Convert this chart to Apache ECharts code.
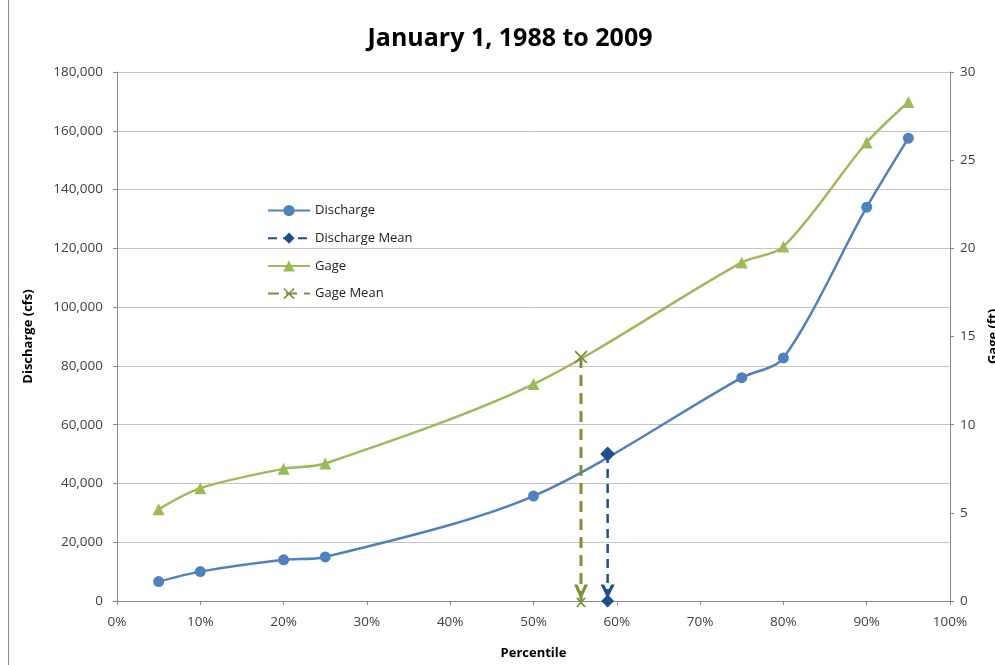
<!DOCTYPE html>
<html>
<head>
<meta charset="utf-8">
<title>January 1, 1988 to 2009</title>
<script src="https://cdn.jsdelivr.net/npm/echarts@6/dist/echarts.min.js"></script>
<style>
  html, body { margin: 0; padding: 0; background: #fff; }
  #chart { width: 995px; height: 665px; }
</style>
</head>
<body>
<div id="chart"></div>
<script>
// values
const percentiles = [5, 10, 20, 25, 50, 75, 80, 90, 95]
const discharge = [6600, 10000, 14000, 15000, 35700, 76000, 82700, 134000, 157500]
const gage = [5.2, 6.4, 7.5, 7.8, 12.3, 19.2, 20.1, 26.0, 28.3]
const dischargeMean = { percentile: 58.9, value: 50000 }
const gageMean = { percentile: 55.7, value: 13.84 }
const xTicks = [0, 10, 20, 30, 40, 50, 60, 70, 80, 90, 100]

const font = '"Open Sans", "Liberation Sans", sans-serif'
const axisColor = '#868686'
const labelColor = '#404040'

const xMark = 'path://M0,1L1,0L5,4L9,0L10,1L6,5L10,9L9,10L5,6L1,10L0,9L4,5Z'
const arrowX = 'path://M0,0L3,0L6,6L9,0L12,0L6,12Z M2,11L3,10L6,13L9,10L10,11L7,14L10,17L9,18L6,15L3,18L2,17L5,14Z'
const arrowDiamond = 'path://M0,0L3,0L6,6L9,0L12,0L6,12Z M6,8.5L11.5,14L6,19.5L0.5,14Z'

const pairs = (ys) => percentiles.map((p, i) => [p, ys[i]])

const chart = echarts.init(document.getElementById('chart'))

chart.setOption({
  animation: false,
  textStyle: { fontFamily: font },
  title: {
    text: 'January 1, 1988 to 2009',
    left: 505,
    top: 21,
    textAlign: 'center',
    textStyle: { fontFamily: font, fontSize: 25, fontWeight: 'bold', color: '#000' }
  },
  graphic: [
    { type: 'line', shape: { x1: 8.5, y1: 0, x2: 8.5, y2: 665 }, style: { stroke: '#8c8c8c', lineWidth: 1 } }
  ],
  legend: {
    orient: 'vertical',
    left: 262,
    top: 199,
    itemWidth: 42,
    itemHeight: 14,
    itemGap: 14.7,
    textStyle: { fontFamily: font, fontSize: 13, color: '#222' },
    data: ['Discharge', 'Discharge Mean', 'Gage', 'Gage Mean']
  },
  grid: { left: 117, right: 45, top: 72, bottom: 64, outerBoundsMode: 'none' },
  xAxis: {
    type: 'value',
    min: 0,
    max: 100,
    interval: 10,
    name: 'Percentile',
    nameLocation: 'middle',
    nameGap: 46,
    nameTextStyle: { fontFamily: font, fontSize: 13, fontWeight: 'bold', color: '#000' },
    axisLine: { lineStyle: { color: axisColor } },
    axisTick: { show: true, length: 4, lineStyle: { color: axisColor } },
    axisLabel: {
      margin: 14,
      color: labelColor,
      fontSize: 13.5,
      formatter: (v) => xTicks.includes(v) ? v + '%' : ''
    },
    splitLine: { show: false }
  },
  yAxis: [
    {
      type: 'value',
      min: 0,
      max: 180000,
      interval: 20000,
      name: 'Discharge (cfs)',
      nameLocation: 'middle',
      nameGap: 82,
      nameTextStyle: { fontFamily: font, fontSize: 13, fontWeight: 'bold', color: '#000' },
      axisLine: { show: true, lineStyle: { color: axisColor } },
      axisTick: { show: true, length: 4, lineStyle: { color: axisColor } },
      axisLabel: {
        margin: 14,
        color: labelColor,
        fontSize: 13.5,
        formatter: (v) => v.toLocaleString('en-US')
      },
      splitLine: { show: true, lineStyle: { color: '#c4c4c4', width: 1 } }
    },
    {
      type: 'value',
      min: 0,
      max: 30,
      interval: 5,
      position: 'right',
      name: 'Gage (ft)',
      nameLocation: 'middle',
      nameGap: 37,
      nameTextStyle: { fontFamily: font, fontSize: 13, fontWeight: 'bold', color: '#000' },
      axisLine: { show: true, lineStyle: { color: axisColor } },
      axisTick: { show: true, length: 4, lineStyle: { color: axisColor } },
      axisLabel: { margin: 10, color: labelColor, fontSize: 13.5 },
      splitLine: { show: false }
    }
  ],
  series: [
    {
      name: 'Discharge',
      type: 'line',
      yAxisIndex: 0,
      smooth: 0.3,
      symbol: 'circle',
      symbolSize: 11,
      itemStyle: { color: '#4f81bd' },
      lineStyle: { color: '#4f81bd', width: 2.5 },
      data: pairs(discharge),
      z: 3
    },
    {
      name: 'Discharge Mean',
      type: 'line',
      yAxisIndex: 0,
      symbol: 'diamond',
      symbolSize: 15,
      itemStyle: { color: '#1f4e8c' },
      lineStyle: { color: '#1f4e8c', width: 2.5, type: [9, 6] },
      data: [
        [dischargeMean.percentile, dischargeMean.value],
        { value: [dischargeMean.percentile, 0], symbol: arrowDiamond, symbolSize: [14, 23], symbolOffset: [0, -5] }
      ],
      z: 4
    },
    {
      name: 'Gage',
      type: 'line',
      yAxisIndex: 1,
      smooth: 0.3,
      symbol: 'triangle',
      symbolSize: 12,
      itemStyle: { color: '#9bbb59' },
      lineStyle: { color: '#9bbb59', width: 2.5 },
      data: pairs(gage),
      z: 3
    },
    {
      name: 'Gage Mean',
      type: 'line',
      yAxisIndex: 1,
      symbol: xMark,
      symbolSize: 13,
      itemStyle: { color: '#77933c' },
      lineStyle: { color: '#77933c', width: 3, type: [11, 7] },
      data: [
        [gageMean.percentile, gageMean.value],
        { value: [gageMean.percentile, 0], symbol: arrowX, symbolSize: [14, 23], symbolOffset: [0, -5] }
      ],
      z: 4
    }
  ]
})
</script>
</body>
</html>
